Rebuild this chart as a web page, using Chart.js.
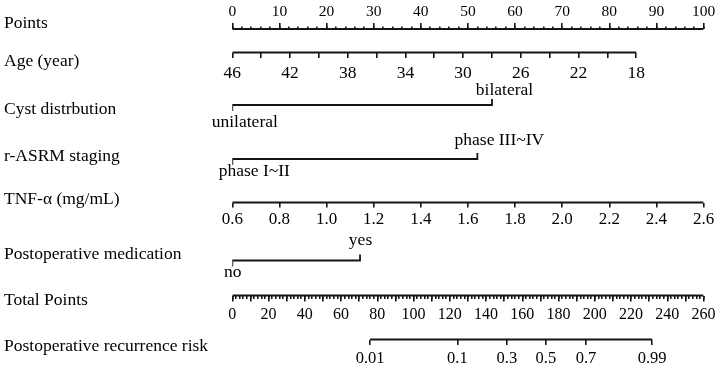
<!DOCTYPE html>
<html>
<head>
<meta charset="utf-8">
<script src="https://cdn.jsdelivr.net/npm/chart.js@4.4.0/dist/chart.umd.min.js"></script>
<style>
  html, body { margin: 0; padding: 0; background: #fff; }
</style>
</head>
<body>
<canvas id="nomogram" width="720" height="369"></canvas>
<script>
const titles = ['Points', 'Age (year)', 'Cyst distrbution', 'r-ASRM staging', 'TNF-α (mg/mL)',
  'Postoperative medication', 'Total Points', 'Postoperative recurrence risk'];

const pointTicks = [0, 10, 20, 30, 40, 50, 60, 70, 80, 90, 100];

const ageTicks = [46, 44, 42, 40, 38, 36, 34, 32, 30, 28, 26, 24, 22, 20, 18];
const ageLabels = [46, 42, 38, 34, 30, 26, 22, 18];
const agePoints = [0, 85.7];          // points at age 46 and at age 18

const cystLevels = ['unilateral', 'bilateral'];
const cystPoints = [0, 55.1];

const stageLevels = ['phase I~II', 'phase III~IV'];
const stagePoints = [0, 52.0];

const tnfTicks = [0.6, 0.8, 1.0, 1.2, 1.4, 1.6, 1.8, 2.0, 2.2, 2.4, 2.6];
const tnfPoints = [0, 100];           // points at 0.6 and at 2.6

const medLevels = ['no', 'yes'];
const medPoints = [0, 27.1];

const totalTicks = [0, 20, 40, 60, 80, 100, 120, 140, 160, 180, 200, 220, 240, 260];
const totalPoints = [0, 100];         // total 0 and 260 sit under points 0 and 100

const riskTicks = [0.01, 0.1, 0.3, 0.5, 0.7, 0.99];
const riskTotal = [76, 124.2, 151.5, 173, 195.1, 231.6];

// layout: vertical position of each row (y scale runs in pixels from the top)
const rowY = { points: 29, age: 52.5, cyst: 105, stage: 159, tnf: 202.5, med: 260.5, total: 295.5, risk: 339.5 };
const titleY = [23, 61.5, 109.5, 156.5, 199, 254, 300.5, 346.5];

const ink = '#151515';
Chart.defaults.font.family = "'Liberation Serif', 'Times New Roman', serif";
Chart.defaults.color = '#000';

function seq(a, b, step) {
  const out = [];
  for (let v = a; v <= b + 1e-9; v += step) out.push(+v.toFixed(4));
  return out;
}

// value range of a variable axis stretched over 0..100 points
function spanOf(vals, pts) {
  const k = (vals[1] - vals[0]) / (pts[1] - pts[0]);
  const v0 = vals[0] - k * pts[0];
  const v100 = v0 + k * 100;
  return v0 < v100 ? { min: v0, max: v100, reverse: false } : { min: v100, max: v0, reverse: true };
}

function tickAxis(row, span, ticks, o) {
  return {
    type: 'linear', axis: 'x', position: { y: row },
    min: span.min, max: span.max, reverse: span.reverse, bounds: 'data',
    afterBuildTicks: s => { s.ticks = ticks.map(v => ({ value: v })); },
    border: { display: false },
    grid: { drawOnChartArea: false, color: ink, lineWidth: 1.6, tickLength: o.len },
    ticks: {
      autoSkip: false, maxRotation: 0, minRotation: 0,
      display: !!o.label, padding: o.pad || 0,
      callback: o.label || (() => ''),
      font: { size: o.size || 16 }
    }
  };
}

// two-line labels: first level printed under the line, second level over it
function levelAxis(row, levels, pts, pad, shift, lh) {
  return {
    type: 'linear', axis: 'x', position: { y: row }, min: 0, max: 100, bounds: 'data',
    afterBuildTicks: s => { s.ticks = pts.map(v => ({ value: v })); },
    border: { display: false },
    grid: { display: false, drawTicks: false },
    ticks: {
      autoSkip: false, maxRotation: 0, minRotation: 0,
      padding: pad, labelOffset: shift,
      font: { size: 17.5, lineHeight: lh + 'px' },
      callback: (v, i) => i === 0 ? ['', levels[0]] : [levels[1], '']
    }
  };
}

function line(axis, pts) {
  return {
    xAxisID: axis, yAxisID: 'y', data: pts, showLine: true,
    borderColor: ink, borderWidth: 1.8, pointRadius: 0, tension: 0
  };
}

function bracket(row, pts) {
  return line('x', [
    { x: pts[0], y: row + 6 }, { x: pts[0], y: row },
    { x: pts[1], y: row }, { x: pts[1], y: row - 6 }
  ]);
}

const full = { min: 0, max: 100, reverse: false };
const ageSpan = spanOf([ageTicks[0], ageTicks[ageTicks.length - 1]], agePoints);
const tnfSpan = spanOf([tnfTicks[0], tnfTicks[tnfTicks.length - 1]], tnfPoints);
const totalSpan = spanOf([totalTicks[0], totalTicks[totalTicks.length - 1]], totalPoints);

new Chart(document.getElementById('nomogram'), {
  type: 'scatter',
  data: {
    datasets: [
      line('x', [{ x: pointTicks[0], y: rowY.points }, { x: pointTicks[pointTicks.length - 1], y: rowY.points }]),
      line('age', [{ x: ageTicks[0], y: rowY.age }, { x: ageTicks[ageTicks.length - 1], y: rowY.age }]),
      bracket(rowY.cyst, cystPoints),
      bracket(rowY.stage, stagePoints),
      line('tnf', [{ x: tnfTicks[0], y: rowY.tnf }, { x: tnfTicks[tnfTicks.length - 1], y: rowY.tnf }]),
      bracket(rowY.med, medPoints),
      line('total', [{ x: totalTicks[0], y: rowY.total }, { x: totalTicks[totalTicks.length - 1], y: rowY.total }]),
      line('risk', [{ x: riskTotal[0], y: rowY.risk }, { x: riskTotal[riskTotal.length - 1], y: rowY.risk }])
    ]
  },
  options: {
    responsive: false,
    animation: false,
    events: [],
    layout: { padding: { left: 4, right: 16, top: 12, bottom: 12 } },
    plugins: { legend: { display: false }, tooltip: { enabled: false } },
    scales: {
      x: { type: 'linear', min: 0, max: 100, display: false },
      y: {
        type: 'linear', position: 'left', min: 12, max: 357, reverse: true, bounds: 'data',
        afterBuildTicks: s => { s.ticks = titleY.map(v => ({ value: v })); },
        afterFit: s => { s.width = 228.3; },
        grid: { display: false },
        border: { display: false },
        ticks: { autoSkip: false, crossAlign: 'far', padding: 0, font: { size: 17.5 }, callback: (v, i) => titles[i] }
      },
      pointsMinor: tickAxis(rowY.points, full, seq(0, 100, 2), { len: -2.5 }),
      pointsMajor: tickAxis(rowY.points, full, pointTicks, { len: -6, pad: -20.3, size: 15.5, label: v => String(v) }),
      age: tickAxis(rowY.age, ageSpan, ageTicks, {
        len: 5, pad: 5.8, size: 17.5, label: v => ageLabels.includes(v) ? String(v) : ''
      }),
      cyst: levelAxis(rowY.cyst, cystLevels, cystPoints, -31, 12.5, 32),
      stage: levelAxis(rowY.stage, stageLevels, stagePoints, -34.5, 22, 31),
      tnf: tickAxis(rowY.tnf, tnfSpan, tnfTicks, { len: 4.5, pad: 2.8, size: 17, label: v => v.toFixed(1) }),
      med: levelAxis(rowY.med, medLevels, medPoints, -35.8, 0.5, 32),
      totalMinor: tickAxis(rowY.total, totalSpan, seq(0, 260, 2), { len: 3 }),
      total: tickAxis(rowY.total, totalSpan, seq(0, 260, 10), {
        len: 5.5, pad: 4.4, size: 16, label: v => totalTicks.includes(v) ? String(v) : ''
      }),
      risk: tickAxis(rowY.risk, totalSpan, riskTotal, {
        len: 5, pad: 3.8, size: 16.5, label: (v, i) => String(riskTicks[i])
      })
    }
  }
});
</script>
</body>
</html>
